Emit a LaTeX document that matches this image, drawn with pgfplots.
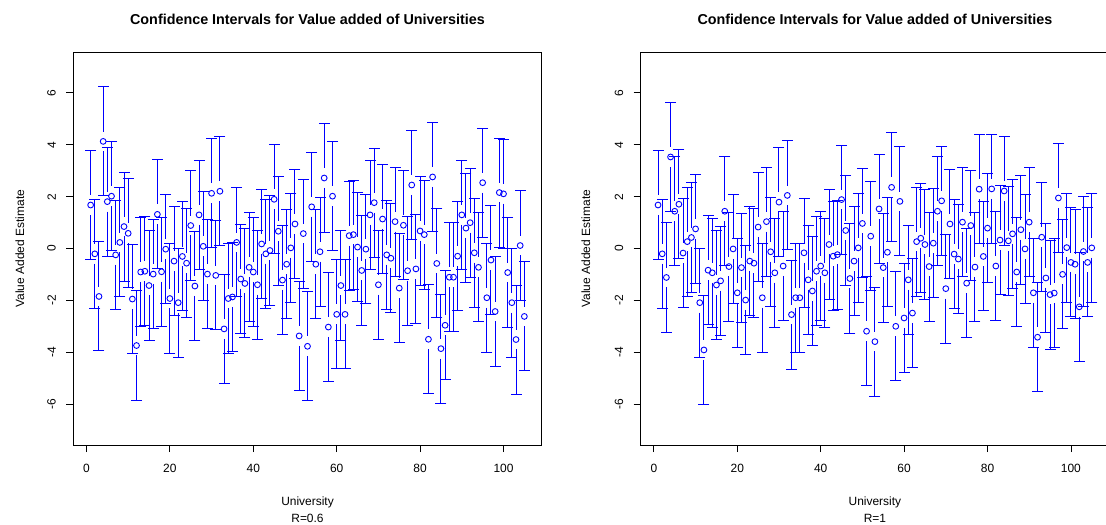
\documentclass[border=0pt]{standalone}
\usepackage{pgfplots}
\usepackage{pgfplotstable}
\pgfplotsset{compat=1.18}
\usepackage{fontspec}
\setmainfont{Liberation Sans}

% Value-added estimates per university (index, estimate)
\pgfplotstableread{
i v
1 1.68
2 -0.20
3 -1.84
4 4.13
5 1.81
6 2.02
7 -0.24
8 0.24
9 0.85
10 0.59
11 -1.94
12 -3.73
13 -0.90
14 -0.87
15 -1.42
16 -0.98
17 1.32
18 -0.89
19 -0.02
20 -1.92
21 -0.48
22 -2.08
23 -0.30
24 -0.56
25 0.89
26 -1.44
27 1.30
28 0.09
29 -0.98
30 2.13
31 -1.03
32 2.21
33 -3.09
34 -1.92
35 -1.86
36 0.24
37 -1.17
38 -1.34
39 -0.72
40 -0.90
41 -1.39
42 0.18
43 -0.20
44 -0.07
45 1.90
46 0.67
47 -1.21
48 -0.60
49 0.03
50 0.95
51 -3.36
52 0.58
53 -3.76
54 1.61
55 -0.60
56 -0.12
57 2.72
58 -3.02
59 2.02
60 -2.53
61 -1.42
62 -2.53
63 0.50
64 0.54
65 0.06
66 -0.84
67 -0.02
68 1.30
69 1.77
70 -1.39
71 1.14
72 -0.24
73 -0.37
74 1.04
75 -1.52
76 0.90
77 -0.85
78 2.45
79 -0.78
80 0.68
81 0.54
82 -3.49
83 2.76
84 -0.57
85 -3.85
86 -2.95
87 -1.10
88 -1.10
89 -0.29
90 1.30
91 0.79
92 1.00
93 -0.16
94 -0.72
95 2.54
96 -1.89
97 -0.44
98 -2.42
99 2.16
100 2.11
101 -0.92
102 -2.08
103 -3.50
104 0.12
105 -2.61
}\dataLow

\pgfplotstableread{
i v
1 1.68
2 -0.20
3 -1.11
4 3.53
5 1.44
6 1.71
7 -0.17
8 0.27
9 0.43
10 0.76
11 -2.08
12 -3.90
13 -0.83
14 -0.93
15 -1.40
16 -1.24
17 1.44
18 -0.69
19 -0.01
20 -1.70
21 -0.73
22 -1.98
23 -0.48
24 -0.56
25 0.83
26 -1.89
27 1.04
28 -0.12
29 -0.93
30 1.79
31 -0.67
32 2.05
33 -2.54
34 -1.89
35 -1.89
36 -0.16
37 -1.20
38 -1.63
39 -0.87
40 -0.67
41 -0.93
42 0.16
43 -0.29
44 -0.23
45 1.89
46 0.70
47 -1.15
48 -0.48
49 0.03
50 0.97
51 -3.18
52 0.48
53 -3.58
54 1.53
55 -0.73
56 -0.14
57 2.36
58 -2.99
59 1.82
60 -2.67
61 -1.20
62 -2.48
63 0.27
64 0.40
65 0.16
66 -0.69
67 0.21
68 1.44
69 1.84
70 -1.54
71 0.95
72 -0.21
73 -0.40
74 1.02
75 -1.33
76 0.89
77 -0.71
78 2.29
79 -0.30
80 0.79
81 2.30
82 -0.67
83 0.33
84 2.22
85 0.30
86 0.57
87 -0.90
88 0.73
89 -0.01
90 1.02
91 -1.70
92 -3.41
93 0.44
94 -1.13
95 -1.77
96 -1.71
97 1.95
98 -0.99
99 0.04
100 -0.53
101 -0.60
102 -2.24
103 -0.11
104 -0.53
105 0.03
}\dataHigh

% Each interval reaches \cihalf either side of the estimate and leaves a
% gap around the point. The two whiskers are vertical strokes centred on
% their midpoints (mid = gap 0.38 + segment/2 = 1.24 units; segment
% 1.72 units = 44.67bp at 25.972bp per unit), the ends are caps.
\def\cihalf{2.1}
\def\cimid{1.24}

\pgfplotsset{
  ciaxis/.style={
    scale only axis, width=468.4bp, height=392.7bp,
    anchor=south west,
    xmin=-3.16, xmax=109.16, ymin=-7.56, ymax=7.56,
    xtick={0,20,...,100}, ytick={-6,-4,...,6},
    tick align=outside, tick pos=left,
    major tick length=7.2bp,
    tick style={black, line width=0.8bp},
    axis line style={black, line width=0.8bp},
    tick label style={font=\fontsize{12}{14}\selectfont},
    /pgf/number format/assume math mode=true,
    yticklabel style={rotate=90, anchor=south},
    xticklabel shift=8.8bp, yticklabel shift=6.8bp,
  },
  ciwhisker/.style={only marks, mark=|, blue, mark size=22.34bp,
    mark options={line width=1bp}},
  cicap/.style={only marks, mark=-, blue, mark size=5.5bp,
    mark options={line width=1bp}},
  cipoint/.style={only marks, mark=o, blue, mark size=2.9bp,
    mark options={line width=0.9bp}},
}

\begin{document}
\begin{tikzpicture}
\fill[white] (0,0) rectangle (1106bp,525bp);

\begin{axis}[ciaxis, at={(73.3bp,80bp)}]
\addplot[ciwhisker] table[x=i, y expr=\thisrow{v}+\cimid] {\dataLow};
\addplot[ciwhisker] table[x=i, y expr=\thisrow{v}-\cimid] {\dataLow};
\addplot[cicap] table[x=i, y expr=\thisrow{v}+\cihalf] {\dataLow};
\addplot[cicap] table[x=i, y expr=\thisrow{v}-\cihalf] {\dataLow};
\addplot[cipoint] table[x=i, y=v] {\dataLow};
\end{axis}

\begin{axis}[ciaxis, at={(640.7bp,80bp)}]
\addplot[ciwhisker] table[x=i, y expr=\thisrow{v}+\cimid] {\dataHigh};
\addplot[ciwhisker] table[x=i, y expr=\thisrow{v}-\cimid] {\dataHigh};
\addplot[cicap] table[x=i, y expr=\thisrow{v}+\cihalf] {\dataHigh};
\addplot[cicap] table[x=i, y expr=\thisrow{v}-\cihalf] {\dataHigh};
\addplot[cipoint] table[x=i, y=v] {\dataHigh};
\end{axis}

\foreach \cx/\sub in {307.5/{R=0.6}, 874.9/{R=1}} {
  \node[anchor=base, font=\bfseries\fontsize{14.4}{17}\selectfont]
    at (\cx bp,500bp) {Confidence Intervals for Value added of Universities};
  \node[anchor=base, font=\fontsize{12}{14}\selectfont] at (\cx bp,20bp) {University};
  \node[anchor=base, font=\fontsize{12}{14}\selectfont] at (\cx bp,2.5bp) {\sub};
}
\foreach \lx in {24,590} {
  \node[rotate=90, anchor=base, font=\fontsize{12}{14}\selectfont]
    at (\lx bp,276.3bp) {Value Added Estimate};
}

\pgfresetboundingbox
\useasboundingbox (0,0) rectangle (1106bp,525bp);
\end{tikzpicture}
\end{document}
